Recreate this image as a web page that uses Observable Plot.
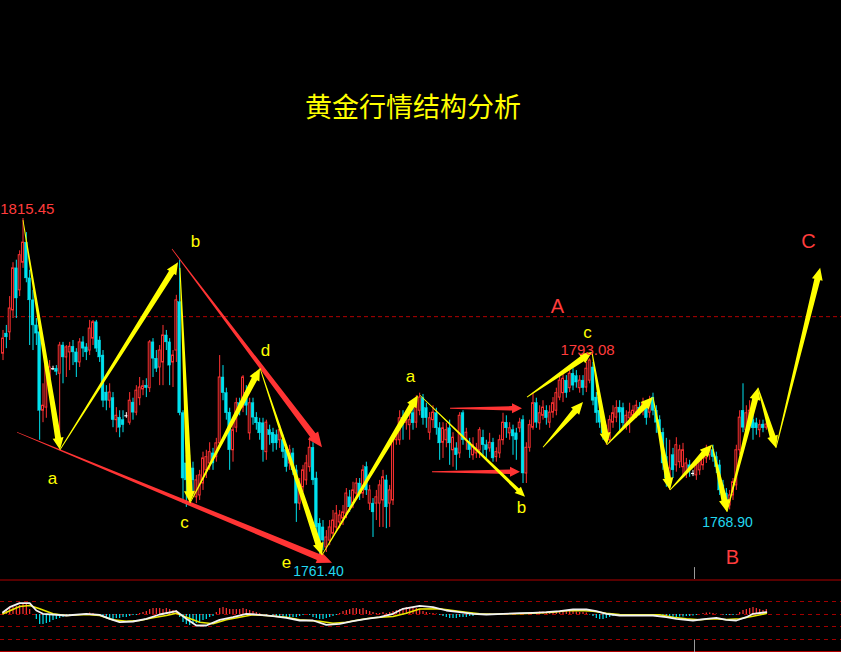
<!DOCTYPE html>
<html><head><meta charset="utf-8">
<script src="https://cdn.jsdelivr.net/npm/d3@7"></script>
<script src="https://cdn.jsdelivr.net/npm/@observablehq/plot@0.6"></script>
<style>
html,body{margin:0;padding:0;background:#000;}
#chart{width:841px;height:652px;background:#000;overflow:hidden;}
#chart svg{display:block;}
</style></head><body><div id="chart"></div>
<script>
// ---- candle data (price) ----
const open = [
1793.9,1797.1,1797.3,1800.8,1807.5,1804.0,1808.4,1811.6,1805.9,1802.4,
1798.4,1797.3,1784.8,1785.3,1788.8,1791.5,1791.5,1790.7,1795.2,1793.3,
1794.1,1795.0,1794.1,1792.5,1795.7,1794.9,1794.4,1796.3,1798.9,1796.0,
1793.6,1787.7,1786.4,1786.8,1783.3,1783.7,1783.3,1784.0,1782.9,1786.1,
1784.5,1786.8,1788.2,1788.8,1788.4,1795.7,1793.1,1791.7,1792.5,1796.8,
1795.7,1792.5,1794.4,1802.1,1784.4,1776.4,1776.1,1775.6,1771.0,1771.3,
1773.2,1775.3,1776.4,1778.0,1777.4,1779.6,1790.1,1787.6,1784.5,1778.5,
1782.1,1786.0,1785.3,1787.6,1781.2,1786.0,1783.7,1782.9,1782.8,1778.2,
1781.7,1781.3,1780.9,1780.1,1780.1,1778.5,1776.4,1778.0,1775.3,1770.0,
1772.6,1773.7,1775.8,1778.9,1774.0,1766.8,1766.2,1763.0,1764.1,1765.2,
1766.2,1767.0,1767.6,1768.4,1771.0,1770.0,1771.6,1773.2,1771.6,1775.8,
1770.0,1770.0,1770.0,1770.0,1770.5,1773.7,1770.0,1770.5,1780.1,1780.1,
1783.7,1782.9,1782.5,1784.4,1782.9,1784.8,1786.8,1785.2,1781.3,1783.3,
1784.4,1782.0,1779.7,1780.1,1782.0,1778.5,1778.8,1778.0,1784.4,1780.1,
1779.7,1777.7,1778.0,1778.5,1780.5,1779.3,1778.8,1779.7,1777.4,1778.0,
1780.1,1782.9,1781.2,1781.7,1781.2,1782.0,1783.3,1774.8,1778.9,1782.1,
1786.0,1782.8,1784.0,1784.8,1782.9,1784.5,1784.8,1786.9,1787.6,1789.6,
1788.4,1790.7,1790.3,1788.4,1789.6,1788.5,1789.6,1791.7,1786.9,1784.8,
1782.9,1780.4,1780.1,1782.9,1783.7,1785.3,1785.2,1782.5,1783.6,1784.0,
1784.5,1785.3,1784.8,1785.3,1784.5,1786.9,1784.8,1783.3,1781.3,1777.4,
1774.0,1777.7,1776.1,1776.6,1775.8,1774.8,1776.1,1774.8,1774.5,1775.3,
1776.1,1777.2,1777.7,1778.5,1777.4,1776.1,1772.9,1771.6,1769.7,1771.3,
1772.9,1778.5,1784.8,1781.7,1782.9,1783.3,1782.8,1781.7,1782.6,1782.1];
const high = [
1797.6,1798.4,1803.0,1808.4,1808.8,1810.3,1815.45,1813.2,1807.2,1804.0,
1799.5,1797.6,1789.1,1793.1,1792.8,1791.9,1792.0,1795.7,1795.7,1795.2,
1795.7,1796.0,1794.7,1796.3,1796.6,1795.5,1799.2,1799.2,1799.2,1796.6,
1794.4,1788.8,1789.1,1787.7,1785.3,1784.8,1784.8,1784.5,1787.7,1786.8,
1788.8,1790.1,1789.6,1789.9,1796.0,1796.3,1794.4,1795.2,1798.4,1797.6,
1796.3,1794.4,1803.2,1808.8,1784.8,1777.7,1777.7,1776.6,1774.5,1775.3,
1778.2,1778.5,1779.7,1778.8,1780.4,1793.6,1792.0,1788.4,1785.2,1782.9,
1786.8,1786.8,1790.4,1788.8,1786.8,1786.8,1784.5,1783.6,1783.6,1783.3,
1782.5,1782.0,1781.7,1782.5,1780.9,1779.3,1779.3,1778.8,1776.1,1774.0,
1776.1,1777.7,1780.5,1779.7,1775.0,1767.6,1767.3,1765.7,1767.3,1768.9,
1769.7,1768.9,1769.7,1772.4,1772.1,1773.4,1774.0,1774.0,1776.1,1776.6,
1772.9,1770.8,1772.1,1773.7,1775.3,1774.5,1772.9,1780.9,1782.0,1784.8,
1784.8,1784.8,1784.5,1785.6,1787.2,1787.6,1787.4,1786.0,1784.5,1785.6,
1785.2,1782.9,1782.9,1782.8,1783.3,1781.3,1779.7,1784.5,1784.8,1782.0,
1780.4,1780.5,1779.6,1782.1,1781.7,1780.1,1781.2,1780.4,1778.9,1780.9,
1784.4,1784.0,1782.9,1782.5,1782.0,1783.6,1784.0,1779.7,1783.3,1787.6,
1786.8,1785.6,1786.4,1785.6,1785.6,1786.9,1788.4,1790.4,1790.9,1790.4,
1791.5,1791.5,1791.2,1790.4,1790.4,1792.5,1793.08,1792.5,1787.7,1785.6,
1783.7,1782.5,1784.0,1785.6,1786.4,1786.4,1786.0,1784.8,1786.0,1785.6,
1786.4,1786.1,1786.8,1786.4,1787.1,1787.6,1785.6,1784.0,1782.0,1780.4,
1780.1,1778.8,1780.5,1779.3,1779.6,1777.2,1776.9,1775.3,1776.9,1777.4,
1778.5,1779.3,1779.1,1779.3,1778.2,1776.9,1773.7,1772.4,1772.1,1774.0,
1779.3,1784.8,1789.1,1785.6,1786.4,1784.5,1783.6,1783.3,1783.3,1783.3];
const low = [
1792.8,1794.7,1796.0,1799.5,1799.5,1803.0,1807.5,1805.2,1795.2,1794.4,
1795.2,1780.1,1782.9,1783.6,1787.2,1791.2,1790.4,1780.1,1789.1,1790.1,
1791.2,1792.0,1790.1,1791.7,1793.3,1792.8,1793.6,1795.2,1794.1,1792.5,
1785.3,1784.8,1785.2,1782.1,1781.3,1780.5,1781.3,1783.6,1782.5,1783.3,
1784.0,1785.6,1787.2,1786.9,1787.7,1790.1,1790.9,1788.8,1788.8,1794.4,
1788.8,1788.5,1792.5,1784.0,1770.0,1769.4,1770.0,1771.8,1770.0,1770.5,
1772.1,1774.0,1775.3,1775.3,1776.6,1778.8,1786.4,1783.3,1775.3,1776.6,
1781.3,1784.0,1784.5,1784.0,1780.1,1782.5,1781.7,1780.1,1776.6,1776.9,
1779.3,1778.2,1778.5,1778.8,1777.2,1775.0,1775.3,1774.5,1767.0,1768.9,
1771.8,1772.9,1775.0,1772.9,1765.4,1761.40,1762.5,1762.2,1763.3,1764.6,
1765.4,1766.0,1766.5,1767.6,1768.6,1769.2,1770.8,1770.5,1770.8,1771.3,
1768.9,1764.6,1767.3,1766.2,1766.2,1766.0,1766.2,1769.7,1779.3,1779.3,
1780.1,1781.7,1780.1,1781.7,1782.0,1784.0,1782.5,1782.0,1780.1,1782.0,
1780.9,1776.9,1777.2,1778.9,1776.1,1775.8,1775.3,1777.2,1779.3,1778.5,
1777.2,1776.9,1777.2,1777.2,1777.7,1777.2,1778.2,1776.6,1776.6,1777.2,
1779.3,1780.4,1780.1,1777.7,1776.9,1781.3,1773.2,1773.2,1778.2,1781.7,
1782.0,1781.7,1783.3,1782.5,1782.0,1783.6,1784.0,1786.4,1786.1,1786.8,
1787.7,1788.0,1788.4,1787.6,1787.2,1787.7,1789.1,1785.6,1782.8,1782.0,
1780.1,1779.3,1779.6,1782.0,1782.9,1781.2,1782.0,1781.7,1781.2,1783.3,
1783.6,1784.0,1784.0,1782.5,1783.6,1784.0,1781.2,1780.1,1775.3,1772.6,
1772.1,1774.0,1775.0,1775.6,1774.5,1774.0,1774.2,1774.3,1773.7,1774.5,
1775.3,1776.4,1776.9,1776.6,1774.8,1771.3,1770.2,1768.90,1769.0,1770.5,
1772.1,1777.7,1781.3,1780.9,1782.0,1780.1,1780.9,1780.5,1781.3,1781.7];
const close = [
1796.3,1796.5,1801.1,1807.5,1802.7,1809.6,1811.6,1805.9,1802.4,1798.4,
1797.1,1784.8,1785.6,1792.0,1791.7,1791.5,1791.0,1795.2,1793.3,1794.9,
1795.0,1794.1,1792.5,1795.7,1794.7,1794.1,1797.9,1798.9,1794.7,1793.3,
1786.4,1786.4,1787.7,1783.3,1784.0,1782.1,1782.5,1784.0,1786.4,1784.5,
1788.0,1788.5,1788.7,1788.4,1795.7,1793.1,1791.5,1794.4,1796.8,1795.7,
1792.0,1793.6,1802.4,1784.4,1774.0,1773.7,1774.0,1773.7,1773.7,1774.5,
1777.2,1777.4,1778.2,1776.4,1779.6,1790.1,1787.6,1784.4,1778.5,1781.7,
1786.0,1785.3,1790.1,1785.6,1786.0,1783.7,1782.8,1781.2,1778.5,1782.9,
1780.9,1779.6,1779.6,1781.7,1778.2,1775.8,1778.5,1775.3,1770.0,1772.9,
1775.3,1776.4,1778.9,1773.7,1766.2,1763.6,1764.1,1764.6,1766.2,1767.3,
1768.4,1768.1,1768.6,1771.6,1769.4,1772.1,1773.2,1771.6,1775.3,1772.1,
1772.1,1768.6,1771.0,1772.9,1774.2,1769.4,1772.1,1780.5,1781.2,1783.6,
1783.3,1784.0,1783.3,1782.8,1786.4,1786.9,1783.6,1783.6,1783.6,1784.5,
1782.0,1779.6,1782.0,1781.7,1779.6,1780.5,1777.7,1784.0,1780.1,1781.3,
1778.5,1779.3,1778.8,1781.7,1779.3,1778.5,1779.7,1777.2,1778.2,1780.1,
1782.9,1782.0,1782.0,1780.7,1780.1,1782.9,1774.8,1778.9,1782.5,1786.0,
1782.9,1784.4,1785.3,1783.6,1784.5,1786.0,1787.6,1789.6,1789.9,1787.6,
1790.7,1788.8,1789.3,1789.6,1788.4,1791.5,1792.8,1786.4,1784.4,1782.9,
1781.2,1781.7,1783.3,1784.4,1785.2,1784.5,1782.8,1784.0,1784.5,1784.8,
1785.6,1784.8,1786.0,1783.6,1786.1,1784.8,1782.9,1781.3,1776.4,1774.0,
1775.6,1775.3,1779.3,1778.5,1778.5,1776.4,1775.3,1774.8,1776.1,1776.6,
1777.7,1778.5,1778.5,1777.4,1775.8,1772.1,1771.3,1770.2,1771.3,1773.4,
1778.5,1783.7,1782.1,1784.4,1784.8,1782.0,1782.0,1782.5,1782.0,1782.6];

// ---- MACD ----
const macdHist = [
0.2,0.4,0.6,0.7,0.8,0.9,1.0,1.0,0.5,0,
-0.5,-1.0,-1.0,-0.9,-0.8,-0.6,-0.5,-0.4,-0.3,-0.2,
-0.1,-0.1,-0.1,-0.1,-0.1,0.1,0.15,0.1,0,-0.1,
-0.3,-0.4,-0.4,-0.5,-0.4,-0.4,-0.3,-0.3,-0.2,-0.1,
-0.1,0.1,0.2,0.3,0.5,0.6,0.6,0.6,0.5,0.6,
0.5,0.4,0.4,-0.3,-0.8,-1.0,-1.1,-1.0,-0.9,-0.8,
-0.6,-0.5,-0.3,-0.2,0.2,0.6,0.7,0.6,0.5,0.5,
0.5,0.5,0.6,0.5,0.4,0.3,0.2,0.1,0,-0.1,
0,-0.1,-0.2,-0.2,-0.3,-0.3,-0.3,-0.3,-0.3,-0.2,
-0.1,0,-0.1,-0.3,-0.4,-0.5,-0.5,-0.4,-0.3,-0.2,
-0.1,0.1,0.3,0.4,0.5,0.6,0.6,0.5,0.6,0.4,
0.3,0.2,0.1,0.1,0.2,0.1,0.2,0.3,0.4,0.5,
0.6,0.7,0.7,0.6,0.6,0.5,0.3,0.2,0.1,0.1,
0.05,-0.1,-0.2,-0.3,-0.4,-0.4,-0.4,-0.3,-0.3,-0.3,
-0.2,-0.2,-0.1,-0.1,0,0,0.05,-0.05,0,0.05,
0.05,0.05,0.05,0.05,0.1,0.1,0.05,0.1,0.15,0.2,
0.2,0.25,0.25,0.2,0.25,0.2,0.25,0.3,0.3,0.3,
0.3,0.3,0.25,0.2,0.2,0.15,-0.05,-0.2,-0.4,-0.5,
-0.5,-0.4,-0.3,-0.2,-0.1,-0.1,-0.05,0,0,0,
0,0,0,0,0,0,0,-0.05,-0.1,-0.2,
-0.3,-0.3,-0.3,-0.25,-0.25,-0.2,-0.2,-0.15,-0.1,0,
0.1,0.15,0.15,0.1,0.05,0,-0.05,-0.1,-0.1,-0.1,
-0.05,0.2,0.4,0.5,0.6,0.7,0.6,0.5,0.4,0.5];
const difIdx = [0,2,5,8,10,12,19,25,29,32,35,39,43,47,52,55,58,61,65,69,73,77,81,85,89,93,97,101,105,109,113,117,120,125,129,133,137,141,145,150,155,159,163,167,171,175,178,181,185,190,195,199,202,207,211,214,217,220,223,225,229];
const difVal = [0.23,0.73,1.13,1.13,0.4,0.07,-0.1,0.07,-0.03,-0.43,-0.77,-0.7,-0.43,0,0.33,-0.43,-1.1,-1.1,-0.53,-0.27,0.07,-0.03,-0.17,-0.33,-0.6,-0.6,-1.03,-0.93,-0.67,-0.43,-0.27,0.07,0.57,0.87,0.73,0.4,0.23,0.07,0,0.07,0.13,0.17,0.23,0.33,0.5,0.5,0.33,0.07,-0.1,-0.1,-0.1,-0.27,-0.43,-0.6,-0.43,-0.33,-0.53,-0.6,-0.27,0.07,0.23];
const deaIdx = [0,5,8,11,15,19,25,29,33,37,41,45,49,52,55,59,63,67,71,75,79,85,89,95,99,103,107,111,117,121,125,131,135,139,143,147,151,155,159,165,169,173,177,181,185,191,197,201,205,209,213,217,221,225,229];
const deaVal = [0.07,0.8,0.9,0.57,0.07,-0.1,0,-0.1,-0.53,-0.67,-0.6,-0.33,-0.1,0.13,-0.27,-0.77,-0.93,-0.53,-0.27,-0.03,-0.1,-0.27,-0.53,-0.67,-0.87,-0.77,-0.53,-0.33,-0.2,0.13,0.55,0.57,0.4,0.23,0.07,0.03,0.07,0.07,0.13,0.23,0.37,0.4,0.33,0.13,0,-0.03,-0.03,-0.27,-0.43,-0.53,-0.43,-0.5,-0.43,-0.17,0.1];
const macdGrid = [1.3, 0, -1.2, -2.5];

// ---- annotations (bar index, price) ----
const waveFromIdx = [6.15,17.25,53.25,56.25,77.25,95.85,157.35,162.15,176.85,181.35,195.15,200.25,212.85,217.35,226.65,232.05];
const waveFromPx  = [1815.1,1778.5,1807.5,1770.0,1791.5,1761.7,1786.9,1778.9,1794.1,1779.3,1786.9,1772.1,1779.3,1768.6,1788.4,1778.8];
const waveToIdx   = [17.25,52.65,56.25,77.25,95.85,124.65,176.85,174.15,181.35,195.15,200.25,212.85,217.35,226.65,232.05,245.3];
const waveToPx    = [1778.5,1808.4,1770.0,1791.5,1761.7,1787.2,1794.1,1786.1,1779.3,1786.9,1772.1,1779.3,1768.6,1788.4,1778.8,1807.5];
const thinFromIdx = [125.25], thinFromPx = [1787.2], thinToIdx = [156.75], thinToPx = [1771.0];
const trendFromIdx = [50.85, 4.35], trendFromPx = [1810.5, 1781.3];
const trendToIdx   = [95.85, 98.85], trendToPx   = [1778.9, 1760.5];
const flatFromIdx = [134.25, 128.85], flatFromPx = [1785.1, 1775.0];
const flatToIdx   = [155.85, 155.25], flatToPx   = [1785.1, 1775.0];
const resistance = [1799.8];
const cursorIdx = [207.45];

const waveLabels = ["a","b","c","d","e","a","b","c"];
const waveLabelIdx = [14.85,57.75,54.45,78.75,85.05,122.25,155.55,175.35];
const waveLabelPx  = [1774.0,1811.8,1767.0,1794.4,1760.6,1790.3,1769.4,1797.3];
const bigLabels = ["A","B","C"];
const bigLabelIdx = [166.35,218.85,241.65];
const bigLabelPx  = [1801.4,1761.4,1811.8];
const highTags = ["1815.45","1793.08"];
const highTagIdx = [7.3,175.35];
const highTagPx  = [1816.9,1794.4];
const lowTags = ["1761.40","1768.90"];
const lowTagIdx = [94.65,217.35];
const lowTagPx  = [1759.2,1767.0];
const title = "黄金行情结构分析";

// ---- styling ----
const RED = "#ff3232", CYAN = "#00e2ef", YEL = "#ffff00", ARED = "#ff3434";
const N = open.length;
const I = d3.range(N);
const xDomain = [-0.75, 251.55];
const FONT = "Liberation Sans, Arial, sans-serif";

function taperedArrows(x1s, y1s, x2s, y2s, o) {
  return (index, scales) => {
    const g = d3.create("svg:g");
    for (let k = 0; k < x1s.length; k++) {
      const ax = scales.x(x1s[k]), ay = scales.y(y1s[k]);
      const bx = scales.x(x2s[k]), by = scales.y(y2s[k]);
      const dx = bx - ax, dy = by - ay, len = Math.hypot(dx, dy);
      const ux = dx / len, uy = dy / len, nx = -uy, ny = ux;
      const hl = Math.min(o.headLength, len * 0.45);
      const cx = bx - ux * hl, cy = by - uy * hl;
      const pts = [
        [ax + nx * o.w0 / 2, ay + ny * o.w0 / 2],
        [cx + nx * o.w1 / 2, cy + ny * o.w1 / 2],
        [cx + nx * o.headWidth / 2, cy + ny * o.headWidth / 2],
        [bx, by],
        [cx - nx * o.headWidth / 2, cy - ny * o.headWidth / 2],
        [cx - nx * o.w1 / 2, cy - ny * o.w1 / 2],
        [ax - nx * o.w0 / 2, ay - ny * o.w0 / 2]
      ];
      g.append("path")
        .attr("d", "M" + pts.map(p => p[0].toFixed(2) + "," + p[1].toFixed(2)).join("L") + "Z")
        .attr("fill", o.fill);
    }
    return g.node();
  };
}

const up = d => close[d] > open[d];
const down = d => close[d] < open[d];
const flat = d => close[d] === open[d];

const main = Plot.plot({
  width: 841, height: 579,
  marginTop: 0, marginBottom: 0, marginLeft: 0, marginRight: 0,
  style: {background: "#000", overflow: "hidden"},
  x: {domain: xDomain, axis: null},
  y: {domain: [1757.9, 1850.2], axis: null},
  marks: [
    Plot.ruleY(resistance, {y: d => d, stroke: "#b40000", strokeDasharray: "4,3", strokeWidth: 1}),
    Plot.ruleX(cursorIdx, {x: d => d, y1: 1759.8, y2: 1757.9, stroke: "#9a9a9a"}),
    Plot.ruleX(I, {filter: up, x: d => d, y1: d => low[d], y2: d => high[d], stroke: RED, strokeWidth: 1}),
    Plot.ruleX(I, {filter: down, x: d => d, y1: d => low[d], y2: d => high[d], stroke: CYAN, strokeWidth: 1}),
    Plot.ruleX(I, {filter: flat, x: d => d, y1: d => low[d], y2: d => high[d], stroke: "#ffffff", strokeWidth: 1}),
    Plot.rect(I, {filter: up, x1: d => d - 0.28, x2: d => d + 0.28, y1: d => open[d], y2: d => close[d], fill: "#000", stroke: RED, strokeWidth: 1}),
    Plot.rect(I, {filter: down, x1: d => d - 0.42, x2: d => d + 0.42, y1: d => open[d], y2: d => close[d], fill: CYAN, stroke: CYAN, strokeWidth: 0.4}),
    Plot.ruleY(I, {filter: flat, y: d => open[d], x1: d => d - 0.45, x2: d => d + 0.45, stroke: "#ffffff", strokeWidth: 1.2}),
    taperedArrows(trendFromIdx, trendFromPx, trendToIdx, trendToPx, {w0: 0.7, w1: 6.5, headLength: 15, headWidth: 13, fill: ARED}),
    taperedArrows(flatFromIdx, flatFromPx, flatToIdx, flatToPx, {w0: 1, w1: 4.5, headLength: 10, headWidth: 10, fill: ARED}),
    taperedArrows(waveFromIdx, waveFromPx, waveToIdx, waveToPx, {w0: 0.8, w1: 6, headLength: 12, headWidth: 11, fill: YEL}),
    taperedArrows(thinFromIdx, thinFromPx, thinToIdx, thinToPx, {w0: 0.6, w1: 3.5, headLength: 10, headWidth: 9, fill: YEL}),
    Plot.text(waveLabels, {x: (d, k) => waveLabelIdx[k], y: (d, k) => waveLabelPx[k], text: d => d, fill: YEL, fontSize: 17, fontFamily: FONT}),
    Plot.text(bigLabels, {x: (d, k) => bigLabelIdx[k], y: (d, k) => bigLabelPx[k], text: d => d, fill: "#ff3c3c", fontSize: 20, fontFamily: FONT}),
    Plot.text(highTags, {x: (d, k) => highTagIdx[k], y: (d, k) => highTagPx[k], text: d => d, fill: "#ff3c3c", fontSize: 15, fontFamily: FONT}),
    Plot.text(lowTags, {x: (d, k) => lowTagIdx[k], y: (d, k) => lowTagPx[k], text: d => d, fill: "#22d8f0", fontSize: 14, fontFamily: FONT}),
    Plot.text([title], {frameAnchor: "top", dy: 97, dx: -8, text: d => d, fill: YEL, fontSize: 27, fontFamily: "Noto Sans CJK SC, sans-serif"})
  ]
});

const macd = Plot.plot({
  width: 841, height: 73,
  marginTop: 0, marginBottom: 0, marginLeft: 0, marginRight: 0,
  style: {background: "#000", overflow: "hidden"},
  x: {domain: xDomain, axis: null},
  y: {domain: [-3.8, 3.5], axis: null},
  marks: [
    Plot.ruleY([3.45, -3.7], {y: d => d, stroke: "#b00000", strokeWidth: 1.2}),
    Plot.ruleY(macdGrid, {y: d => d, stroke: "#a00000", strokeDasharray: "4,4", strokeWidth: 1}),
    Plot.ruleX(cursorIdx, {x: d => d, y1: -2.55, y2: -3.8, stroke: "#9a9a9a"}),
    Plot.ruleX(I, {filter: d => macdHist[d] > 0, x: d => d, y1: 0, y2: d => macdHist[d], stroke: RED, strokeWidth: 1.2}),
    Plot.ruleX(I, {filter: d => macdHist[d] < 0, x: d => d, y1: 0, y2: d => macdHist[d], stroke: CYAN, strokeWidth: 1.2}),
    Plot.line(deaVal, {x: (d, k) => deaIdx[k], y: d => d, stroke: "#e8e800", strokeWidth: 1.6}),
    Plot.line(difVal, {x: (d, k) => difIdx[k], y: d => d, stroke: "#f2f2f2", strokeWidth: 1.8})
  ]
});

const host = document.getElementById("chart");
host.appendChild(main);
host.appendChild(macd);
</script>
</body></html>
